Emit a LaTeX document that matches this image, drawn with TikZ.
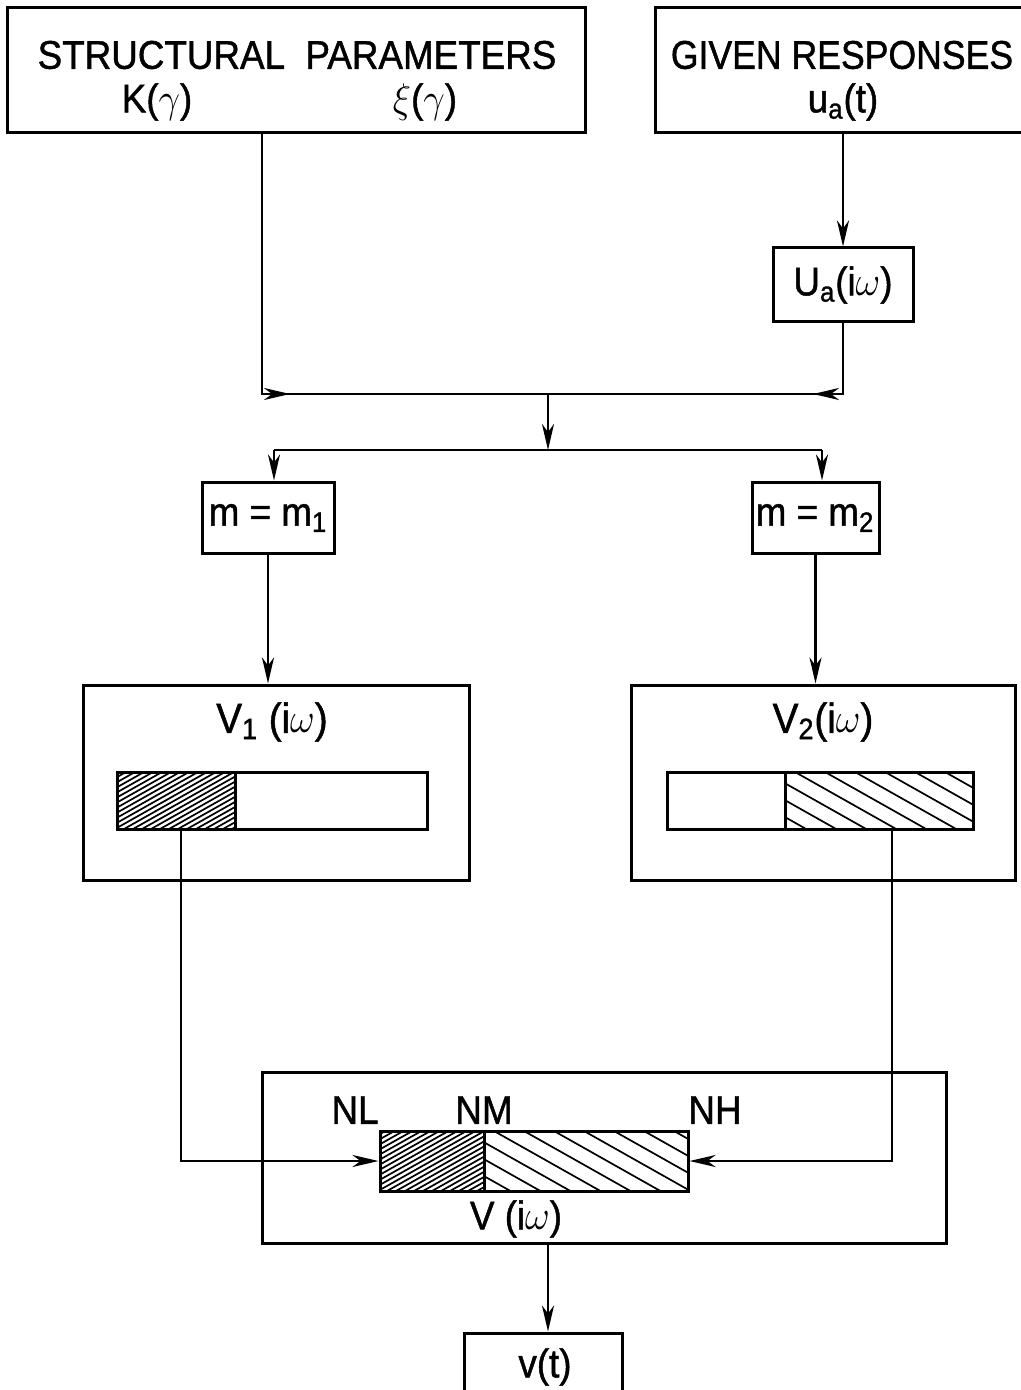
\documentclass[tikz,border=0pt]{standalone}
\usepackage{fontspec}
\setmainfont{Liberation Sans}
\newfontfamily\lett[FakeBold=1.2]{Liberation Sans}
\usetikzlibrary{arrows.meta,fit}
\tikzset{
  box/.style={draw, line width=1.5pt, inner sep=0pt},
  conn/.style={line width=1.4pt},
  arr/.style={conn, -{Stealth[length=13pt,width=6pt,inset=4pt]}},
  lbl/.style={font=\lett\fontsize{20}{22}\selectfont, inner sep=0pt},
  big/.style={font=\lett\fontsize{21}{23}\selectfont, inner sep=0pt},
  hatch/.style={line width=0.85pt},
}
\newcommand\nw[1]{\scalebox{0.92}[1]{#1}}
\newcommand\hatchF[4]{%
  \begin{scope}
    \clip (#1,#2) rectangle (#3,#4);
    \foreach \k in {0,...,30}{\draw[hatch] ({#1-110+\k*9},#4) -- ++(110,-62);}
  \end{scope}}
\newcommand\hatchB[4]{%
  \begin{scope}
    \clip (#1,#2) rectangle (#3,#4);
    \foreach \k in {0,...,13}{\draw[hatch] ({#1-110+\k*30},#2) -- ++(110,62);}
  \end{scope}}
\begin{document}
\begin{tikzpicture}[x=0.5pt,y=-0.5pt]
\useasboundingbox (0,0) rectangle (1021,1390);
\clip (0,0) rectangle (1021,1390);
\fill[white] (0,0) rectangle (1021,1390);

% boxes
\node[box, fit={(7,8)(585,133)}] (A) {};
\node[box, fit={(655,8)(1040,133)}] (B) {};
\node[box, fit={(773,248)(913,322)}] (Ua) {};
\node[box, fit={(202,482)(334,553)}] (m1) {};
\node[box, fit={(752,482)(879,553)}] (m2) {};
\node[box, fit={(83,685)(469,880)}] (V1) {};
\node[box, fit={(631,685)(1015,880)}] (V2) {};
\node[box, fit={(262,1072)(946,1243)}] (V) {};
\node[box, fit={(464,1333)(622,1420)}] (vt) {};

% hatching
\hatchF{117}{772}{235}{829}
\hatchB{785}{772}{973}{829}
\hatchF{380}{1131}{484}{1191}
\hatchB{484}{1131}{688}{1191}
\draw[box] (235,772) -- (235,829);
\draw[box] (785,772) -- (785,829);
\draw[box] (484,1131) -- (484,1191);
\node[box, fit={(117,772)(427,829)}] (bar1) {};
\node[box, fit={(667,772)(973,829)}] (bar2) {};
\node[box, fit={(380,1131)(688,1191)}] (barV) {};

% texts
\node[lbl] (tSP) at (297,55) {\nw{STRUCTURAL\ \ PARAMETERS}};
\node[lbl] (tK) at (157,102) {\nw{K($\gamma$)}};
\node[lbl] (tXi) at (425,102) {\nw{$\xi$($\gamma$)}};
\node[lbl] (tGR) at (842,55) {\scalebox{0.89}[1]{GIVEN RESPONSES}};
\node[lbl] (tua) at (843,102) {\nw{u\textsubscript{a}(t)}};
\node[lbl] (tUa) at (843,285) {\nw{U\textsubscript{a}(i$\omega$)}};
\node[lbl] (tm1) at (268,518) {\nw{m = m\textsubscript{1}}};
\node[lbl] (tm2) at (815,518) {\nw{m = m\textsubscript{2}}};
\node[big] (tV1) at (272,722) {\nw{V\textsubscript{1} (i$\omega$)}};
\node[big] (tV2) at (823,722) {\nw{V\textsubscript{2}(i$\omega$)}};
\node[lbl] (tNL) at (355,1110) {\nw{NL}};
\node[lbl] (tNM) at (484,1110) {\nw{NM}};
\node[lbl] (tNH) at (715,1110) {\nw{NH}};
\node[lbl] (tV) at (516,1219) {\nw{V (i$\omega$)}};
\node[lbl] (tvt) at (545,1367) {\nw{v(t)}};

% connectors
\coordinate (c1) at (262,394);
\coordinate (c2) at (548,394);
\coordinate (c3) at (843,394);
\coordinate (c4) at (548,450);
\coordinate (c5) at (274,450);
\coordinate (c6) at (822,450);
\coordinate (d1) at (181,1161);
\coordinate (d2) at (892,1161);
\coordinate (e1) at (548,1300);

\draw[arr] (B.south -| Ua.north) -- (Ua.north);
\draw[conn] (A.south -| c1) -- (c1) -- (c2);
\draw[conn] (Ua.south) -- (c3) -- (c2);
\draw[arr] (c1) -- ++(28,0);
\draw[arr] (c3) -- ++(-30,0);
\draw[arr] (c2) -- (c4);
\draw[conn] (c5) -- (c6);
\draw[arr] (c5) -- (m1.north -| c5);
\draw[arr] (c6) -- (m2.north -| c6);
\draw[arr] (m1.south) -- (V1.north -| m1.south);
\draw[arr] (m2.south) -- (V2.north -| m2.south);
\draw[arr] (bar1.south -| d1) -- (d1) -- (barV.west |- d1);
\draw[arr] (bar2.south -| d2) -- (d2) -- (barV.east |- d2);
\draw[arr] (V.south -| e1) -- (vt.north -| e1);
\end{tikzpicture}
\end{document}
